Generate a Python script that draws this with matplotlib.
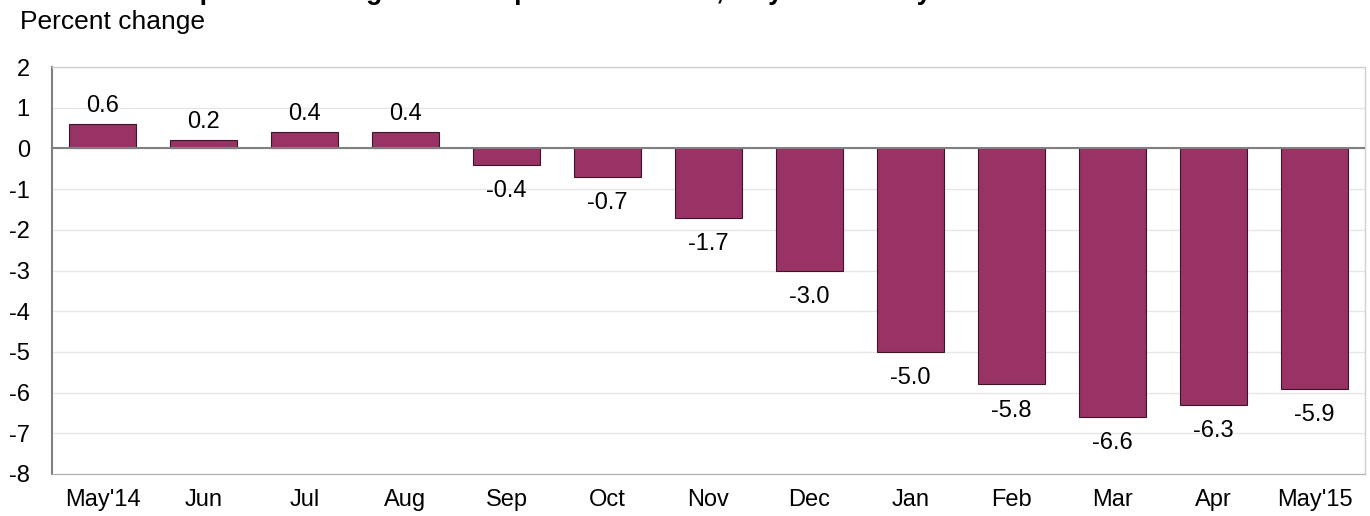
import matplotlib.pyplot as plt

plt.rcParams['font.family'] = ['Liberation Sans', 'DejaVu Sans']

months = ["May'14", "Jun", "Jul", "Aug", "Sep", "Oct", "Nov", "Dec",
          "Jan", "Feb", "Mar", "Apr", "May'15"]
pct_change = [0.6, 0.2, 0.4, 0.4, -0.4, -0.7, -1.7, -3.0,
              -5.0, -5.8, -6.6, -6.3, -5.9]
y_ticks = [2, 1, 0, -1, -2, -3, -4, -5, -6, -7, -8]

# the title is cut off by the top edge in the original, only descenders show
title = "Chart 1. 12-month percent change in the Import Price Index, May 2014 \u2013 May 2015"

W, H = 1370, 516
fig = plt.figure(figsize=(W / 100, H / 100), dpi=100)
ax = fig.add_axes([52 / W, 1 - 474 / H, 1313 / W, (474 - 67) / H])

x = range(len(months))
ax.bar(x, pct_change, width=0.67, color='#993366',
       edgecolor='#3d1428', linewidth=0.8, zorder=3)

for i, v in enumerate(pct_change):
    if v >= 0:
        ax.annotate(f"{v:.1f}", (i, v), xytext=(0, 5), textcoords='offset points',
                    ha='center', va='bottom', fontsize=17)
    else:
        ax.annotate(f"{v:.1f}", (i, v), xytext=(0, -11), textcoords='offset points',
                    ha='center', va='top', fontsize=17)

ax.set_xlim(-0.5, len(months) - 0.5)
ax.set_ylim(-8, 2)
ax.set_yticks(y_ticks)
ax.set_yticklabels([str(t) for t in y_ticks])
ax.set_xticks(list(x))
ax.set_xticklabels(months)
ax.tick_params(axis='both', length=0, labelsize=17)
ax.tick_params(axis='y', pad=16)
ax.tick_params(axis='x', pad=11)

ax.grid(axis='y', color='#e6e6e6', linewidth=1, zorder=0)
ax.axhline(0, color='#808080', linewidth=1.5, zorder=4)

for side in ['top', 'right']:
    ax.spines[side].set_color('#d0d0d0')
    ax.spines[side].set_linewidth(1)
ax.spines['bottom'].set_color('#b0b0b0')
ax.spines['left'].set_color('#808080')
ax.spines['left'].set_linewidth(1.5)

fig.text(20 / W, 1 - 22 / H, "Percent change", fontsize=19, va='center', ha='left')

# size the clipped title so its descenders fall where they do in the original
renderer = fig.canvas.get_renderer()


def text_width(s, fs):
    t = fig.text(0, 0, s, fontsize=fs, fontweight='bold')
    w = t.get_window_extent(renderer).width
    t.remove()
    return w


base = 20
p_mid = text_width(title[:title.index('percent')], base) + text_width('p', base) / 2
y_mid = text_width(title[:title.rindex('May') + 2], base) + text_width('y', base) / 2
scale = (927 - 208) / (y_mid - p_mid)
title_fs = base * scale
x0 = 208 - p_mid * scale
fig.text(x0 / W, 1 + 1 / H, title, fontsize=title_fs, fontweight='bold',
         va='baseline', ha='left')

fig.savefig('out.png', dpi=100)
